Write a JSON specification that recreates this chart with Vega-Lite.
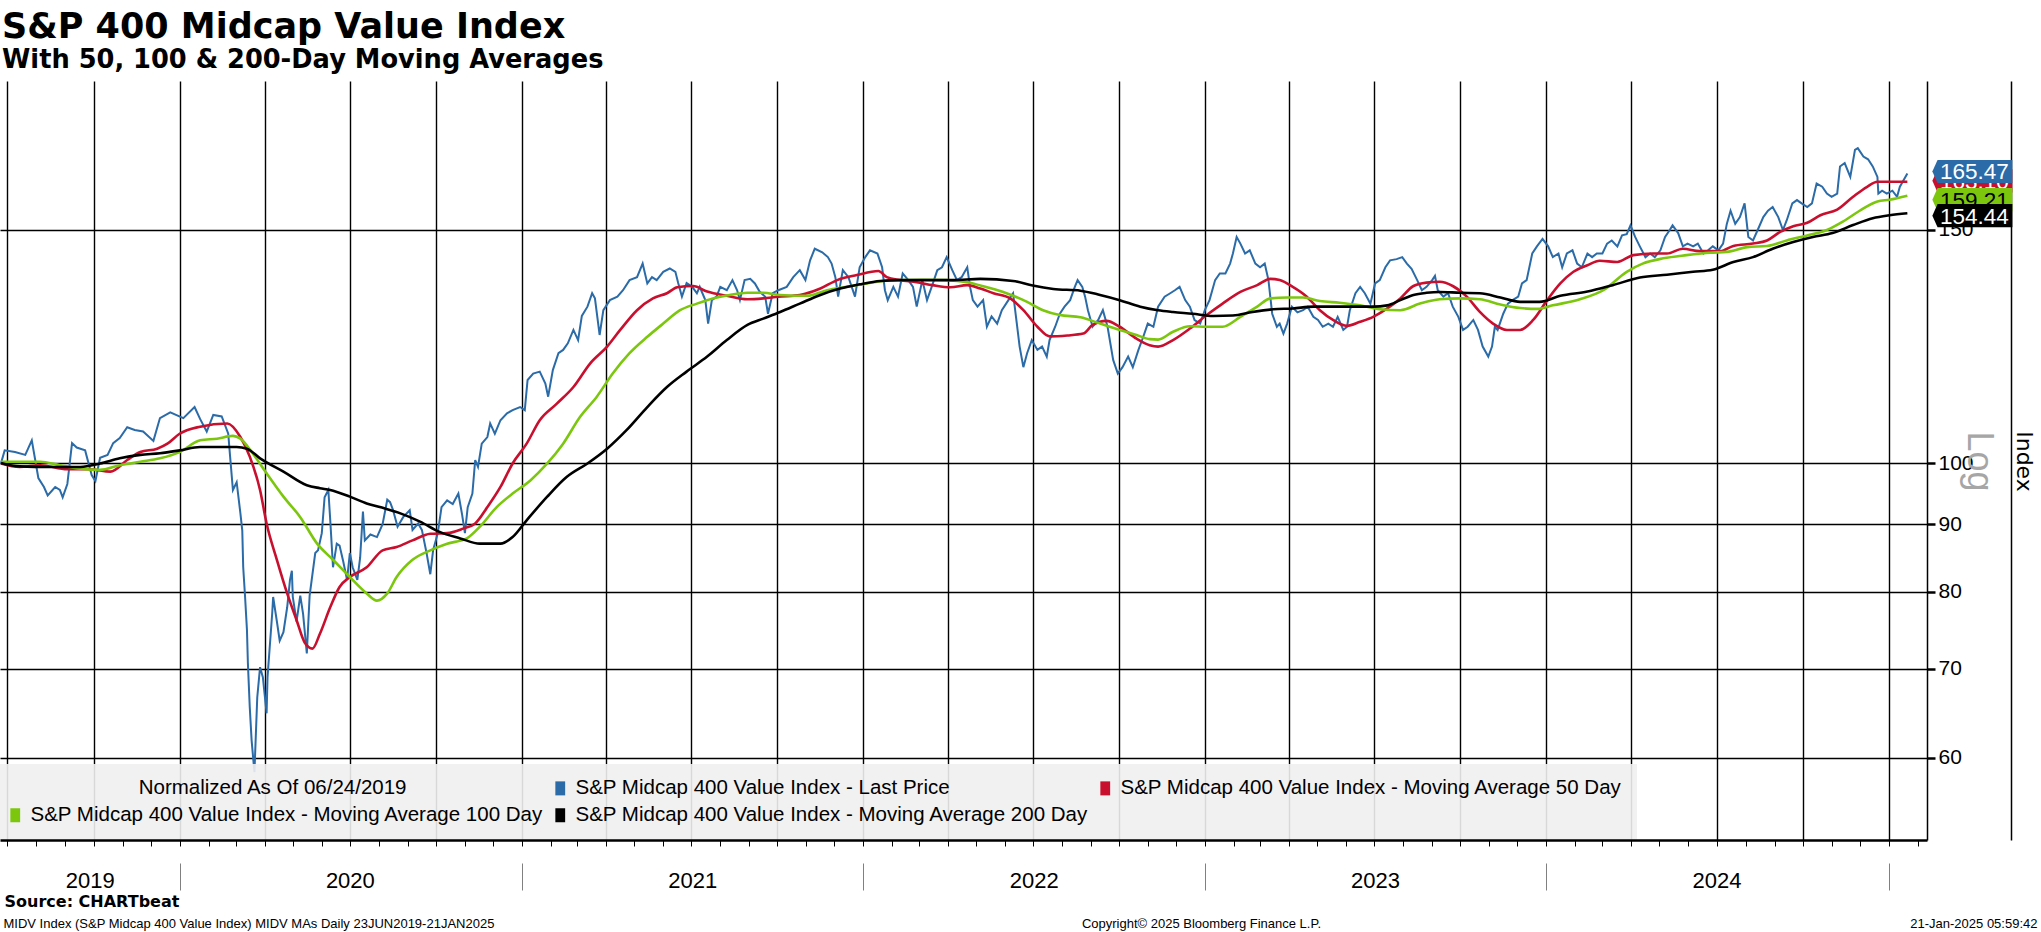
{
"$schema": "https://vega.github.io/schema/vega-lite/v6.json",
"width": 1927, "height": 759,
"autosize": {"type": "none"},
"padding": {"left": 0, "top": 81, "right": 114, "bottom": 92},
"background": "white",
"title": {"text": "S&P 400 Midcap Value Index", "subtitle": "With 50, 100 & 200-Day Moving Averages", "anchor": "start", "frame": "group", "offset": 8, "dx": 2, "font": "DejaVu Sans", "fontSize": 35, "fontWeight": "bold", "color": "#000000", "subtitleFont": "DejaVu Sans", "subtitleFontSize": 25.7, "subtitleFontWeight": "bold", "subtitleColor": "#000000", "subtitlePadding": 3},
"data": {"format": {"parse": {"date": "utc:'%Y-%j'"}}, "values": [
{"date":"2019-175","series":"MA 50","value":100.0},{"date":"2019-195","series":"MA 50","value":99.4},{"date":"2019-217","series":"MA 50","value":99.7},{"date":"2019-246","series":"MA 50","value":99.0},{"date":"2019-270","series":"MA 50","value":99.0},{"date":"2019-292","series":"MA 50","value":98.6},{"date":"2019-310","series":"MA 50","value":100.6},{"date":"2019-324","series":"MA 50","value":102.0},{"date":"2019-342","series":"MA 50","value":102.6},{"date":"2019-353","series":"MA 50","value":103.5},{"date":"2020-001","series":"MA 50","value":105.3},{"date":"2020-023","series":"MA 50","value":106.6},{"date":"2020-052","series":"MA 50","value":107.2},{"date":"2020-066","series":"MA 50","value":104.7},{"date":"2020-076","series":"MA 50","value":101.2},{"date":"2020-087","series":"MA 50","value":95.5},{"date":"2020-094","series":"MA 50","value":90.1},{"date":"2020-105","series":"MA 50","value":84.6},{"date":"2020-116","series":"MA 50","value":79.8},{"date":"2020-126","series":"MA 50","value":76.2},{"date":"2020-135","series":"MA 50","value":73.2},{"date":"2020-143","series":"MA 50","value":72.5},{"date":"2020-151","series":"MA 50","value":74.4},{"date":"2020-162","series":"MA 50","value":77.9},{"date":"2020-172","series":"MA 50","value":80.7},{"date":"2020-183","series":"MA 50","value":82.1},{"date":"2020-201","series":"MA 50","value":83.5},{"date":"2020-218","series":"MA 50","value":86.0},{"date":"2020-233","series":"MA 50","value":86.5},{"date":"2020-250","series":"MA 50","value":87.5},{"date":"2020-269","series":"MA 50","value":88.5},{"date":"2020-287","series":"MA 50","value":88.6},{"date":"2020-304","series":"MA 50","value":89.3},{"date":"2020-317","series":"MA 50","value":90.1},{"date":"2020-330","series":"MA 50","value":92.7},{"date":"2020-344","series":"MA 50","value":96.0},{"date":"2020-357","series":"MA 50","value":100.0},{"date":"2021-006","series":"MA 50","value":103.5},{"date":"2021-020","series":"MA 50","value":107.8},{"date":"2021-038","series":"MA 50","value":110.9},{"date":"2021-056","series":"MA 50","value":114.2},{"date":"2021-074","series":"MA 50","value":119.0},{"date":"2021-092","series":"MA 50","value":122.5},{"date":"2021-106","series":"MA 50","value":126.1},{"date":"2021-124","series":"MA 50","value":130.5},{"date":"2021-141","series":"MA 50","value":133.2},{"date":"2021-156","series":"MA 50","value":134.4},{"date":"2021-167","series":"MA 50","value":135.8},{"date":"2021-184","series":"MA 50","value":136.1},{"date":"2021-199","series":"MA 50","value":134.8},{"date":"2021-220","series":"MA 50","value":133.8},{"date":"2021-242","series":"MA 50","value":133.0},{"date":"2021-259","series":"MA 50","value":133.2},{"date":"2021-275","series":"MA 50","value":133.6},{"date":"2021-298","series":"MA 50","value":134.0},{"date":"2021-320","series":"MA 50","value":135.5},{"date":"2021-338","series":"MA 50","value":137.5},{"date":"2021-359","series":"MA 50","value":138.7},{"date":"2022-017","series":"MA 50","value":139.7},{"date":"2022-026","series":"MA 50","value":138.2},{"date":"2022-040","series":"MA 50","value":137.5},{"date":"2022-058","series":"MA 50","value":137.0},{"date":"2022-075","series":"MA 50","value":136.3},{"date":"2022-094","series":"MA 50","value":135.8},{"date":"2022-112","series":"MA 50","value":136.3},{"date":"2022-126","series":"MA 50","value":135.5},{"date":"2022-140","series":"MA 50","value":134.4},{"date":"2022-158","series":"MA 50","value":133.2},{"date":"2022-172","series":"MA 50","value":130.5},{"date":"2022-187","series":"MA 50","value":126.8},{"date":"2022-200","series":"MA 50","value":124.7},{"date":"2022-219","series":"MA 50","value":124.9},{"date":"2022-236","series":"MA 50","value":125.3},{"date":"2022-246","series":"MA 50","value":127.2},{"date":"2022-261","series":"MA 50","value":128.1},{"date":"2022-275","series":"MA 50","value":126.8},{"date":"2022-293","series":"MA 50","value":124.2},{"date":"2022-307","series":"MA 50","value":122.8},{"date":"2022-316","series":"MA 50","value":122.5},{"date":"2022-332","series":"MA 50","value":123.9},{"date":"2022-350","series":"MA 50","value":126.4},{"date":"2023-003","series":"MA 50","value":129.4},{"date":"2023-020","series":"MA 50","value":132.0},{"date":"2023-039","series":"MA 50","value":134.7},{"date":"2023-057","series":"MA 50","value":136.3},{"date":"2023-071","series":"MA 50","value":137.8},{"date":"2023-081","series":"MA 50","value":137.5},{"date":"2023-095","series":"MA 50","value":135.9},{"date":"2023-110","series":"MA 50","value":133.6},{"date":"2023-124","series":"MA 50","value":130.5},{"date":"2023-138","series":"MA 50","value":128.3},{"date":"2023-153","series":"MA 50","value":127.0},{"date":"2023-167","series":"MA 50","value":127.9},{"date":"2023-181","series":"MA 50","value":129.0},{"date":"2023-196","series":"MA 50","value":130.9},{"date":"2023-210","series":"MA 50","value":133.2},{"date":"2023-224","series":"MA 50","value":136.1},{"date":"2023-238","series":"MA 50","value":136.9},{"date":"2023-252","series":"MA 50","value":137.1},{"date":"2023-266","series":"MA 50","value":136.1},{"date":"2023-281","series":"MA 50","value":133.6},{"date":"2023-295","series":"MA 50","value":130.1},{"date":"2023-309","series":"MA 50","value":127.5},{"date":"2023-324","series":"MA 50","value":126.1},{"date":"2023-338","series":"MA 50","value":126.1},{"date":"2023-352","series":"MA 50","value":128.3},{"date":"2024-002","series":"MA 50","value":132.8},{"date":"2024-016","series":"MA 50","value":136.7},{"date":"2024-030","series":"MA 50","value":139.5},{"date":"2024-045","series":"MA 50","value":141.1},{"date":"2024-058","series":"MA 50","value":142.2},{"date":"2024-077","series":"MA 50","value":141.9},{"date":"2024-094","series":"MA 50","value":143.6},{"date":"2024-115","series":"MA 50","value":144.0},{"date":"2024-130","series":"MA 50","value":144.0},{"date":"2024-147","series":"MA 50","value":145.2},{"date":"2024-165","series":"MA 50","value":144.6},{"date":"2024-187","series":"MA 50","value":144.6},{"date":"2024-201","series":"MA 50","value":145.9},{"date":"2024-222","series":"MA 50","value":146.5},{"date":"2024-237","series":"MA 50","value":147.3},{"date":"2024-251","series":"MA 50","value":149.5},{"date":"2024-265","series":"MA 50","value":151.0},{"date":"2024-280","series":"MA 50","value":151.9},{"date":"2024-294","series":"MA 50","value":153.9},{"date":"2024-312","series":"MA 50","value":155.4},{"date":"2024-329","series":"MA 50","value":158.9},{"date":"2024-344","series":"MA 50","value":161.7},{"date":"2024-355","series":"MA 50","value":163.1},{"date":"2025-021","series":"MA 50","value":163.1},
{"date":"2019-175","series":"MA 100","value":100.3},{"date":"2019-195","series":"MA 100","value":100.3},{"date":"2019-217","series":"MA 100","value":100.3},{"date":"2019-238","series":"MA 100","value":99.7},{"date":"2019-260","series":"MA 100","value":99.1},{"date":"2019-281","series":"MA 100","value":98.9},{"date":"2019-302","series":"MA 100","value":99.7},{"date":"2019-324","series":"MA 100","value":100.3},{"date":"2019-345","series":"MA 100","value":100.9},{"date":"2020-001","series":"MA 100","value":102.0},{"date":"2020-023","series":"MA 100","value":104.1},{"date":"2020-041","series":"MA 100","value":104.4},{"date":"2020-058","series":"MA 100","value":104.9},{"date":"2020-066","series":"MA 100","value":104.4},{"date":"2020-079","series":"MA 100","value":101.8},{"date":"2020-094","series":"MA 100","value":98.3},{"date":"2020-112","series":"MA 100","value":94.4},{"date":"2020-130","series":"MA 100","value":91.1},{"date":"2020-148","series":"MA 100","value":87.0},{"date":"2020-165","series":"MA 100","value":84.6},{"date":"2020-183","series":"MA 100","value":82.1},{"date":"2020-201","series":"MA 100","value":79.8},{"date":"2020-212","series":"MA 100","value":78.8},{"date":"2020-223","series":"MA 100","value":79.8},{"date":"2020-233","series":"MA 100","value":82.1},{"date":"2020-250","series":"MA 100","value":84.6},{"date":"2020-269","series":"MA 100","value":86.0},{"date":"2020-287","series":"MA 100","value":87.0},{"date":"2020-308","series":"MA 100","value":87.8},{"date":"2020-322","series":"MA 100","value":89.6},{"date":"2020-340","series":"MA 100","value":92.7},{"date":"2020-357","series":"MA 100","value":94.9},{"date":"2021-010","series":"MA 100","value":97.1},{"date":"2021-028","series":"MA 100","value":100.0},{"date":"2021-045","series":"MA 100","value":103.5},{"date":"2021-063","series":"MA 100","value":108.4},{"date":"2021-081","series":"MA 100","value":112.3},{"date":"2021-098","series":"MA 100","value":116.9},{"date":"2021-116","series":"MA 100","value":121.1},{"date":"2021-135","series":"MA 100","value":124.6},{"date":"2021-152","series":"MA 100","value":127.5},{"date":"2021-170","series":"MA 100","value":130.5},{"date":"2021-188","series":"MA 100","value":132.0},{"date":"2021-205","series":"MA 100","value":133.2},{"date":"2021-223","series":"MA 100","value":134.0},{"date":"2021-242","series":"MA 100","value":134.5},{"date":"2021-259","series":"MA 100","value":134.5},{"date":"2021-277","series":"MA 100","value":134.0},{"date":"2021-306","series":"MA 100","value":133.8},{"date":"2021-327","series":"MA 100","value":135.1},{"date":"2021-348","series":"MA 100","value":135.9},{"date":"2022-005","series":"MA 100","value":136.7},{"date":"2022-022","series":"MA 100","value":137.3},{"date":"2022-043","series":"MA 100","value":137.5},{"date":"2022-065","series":"MA 100","value":137.6},{"date":"2022-090","series":"MA 100","value":137.5},{"date":"2022-112","series":"MA 100","value":137.0},{"date":"2022-133","series":"MA 100","value":135.8},{"date":"2022-154","series":"MA 100","value":134.4},{"date":"2022-176","series":"MA 100","value":132.4},{"date":"2022-193","series":"MA 100","value":130.5},{"date":"2022-211","series":"MA 100","value":129.4},{"date":"2022-233","series":"MA 100","value":128.9},{"date":"2022-254","series":"MA 100","value":127.5},{"date":"2022-275","series":"MA 100","value":126.1},{"date":"2022-293","series":"MA 100","value":125.0},{"date":"2022-307","series":"MA 100","value":124.1},{"date":"2022-316","series":"MA 100","value":124.0},{"date":"2022-332","series":"MA 100","value":125.7},{"date":"2022-350","series":"MA 100","value":126.9},{"date":"2023-003","series":"MA 100","value":126.8},{"date":"2023-020","series":"MA 100","value":126.8},{"date":"2023-039","series":"MA 100","value":129.0},{"date":"2023-057","series":"MA 100","value":131.3},{"date":"2023-071","series":"MA 100","value":133.2},{"date":"2023-089","series":"MA 100","value":133.4},{"date":"2023-106","series":"MA 100","value":133.4},{"date":"2023-124","series":"MA 100","value":132.6},{"date":"2023-145","series":"MA 100","value":132.2},{"date":"2023-167","series":"MA 100","value":131.6},{"date":"2023-188","series":"MA 100","value":130.7},{"date":"2023-210","series":"MA 100","value":130.5},{"date":"2023-231","series":"MA 100","value":132.0},{"date":"2023-252","series":"MA 100","value":133.0},{"date":"2023-274","series":"MA 100","value":133.2},{"date":"2023-295","series":"MA 100","value":133.0},{"date":"2023-317","series":"MA 100","value":131.8},{"date":"2023-338","series":"MA 100","value":131.0},{"date":"2023-357","series":"MA 100","value":130.8},{"date":"2024-008","series":"MA 100","value":131.6},{"date":"2024-037","series":"MA 100","value":133.0},{"date":"2024-062","series":"MA 100","value":135.1},{"date":"2024-087","series":"MA 100","value":139.5},{"date":"2024-104","series":"MA 100","value":141.5},{"date":"2024-126","series":"MA 100","value":142.8},{"date":"2024-151","series":"MA 100","value":143.6},{"date":"2024-176","series":"MA 100","value":144.2},{"date":"2024-194","series":"MA 100","value":144.4},{"date":"2024-216","series":"MA 100","value":145.6},{"date":"2024-237","series":"MA 100","value":145.9},{"date":"2024-258","series":"MA 100","value":147.3},{"date":"2024-280","series":"MA 100","value":148.6},{"date":"2024-301","series":"MA 100","value":150.0},{"date":"2024-318","series":"MA 100","value":152.2},{"date":"2024-336","series":"MA 100","value":155.1},{"date":"2024-355","series":"MA 100","value":157.6},{"date":"2025-002","series":"MA 100","value":158.1},{"date":"2025-021","series":"MA 100","value":159.21},
{"date":"2019-175","series":"MA 200","value":100.1},{"date":"2019-195","series":"MA 200","value":99.5},{"date":"2019-227","series":"MA 200","value":99.4},{"date":"2019-260","series":"MA 200","value":99.4},{"date":"2019-281","series":"MA 200","value":100.0},{"date":"2019-302","series":"MA 200","value":100.9},{"date":"2019-324","series":"MA 200","value":101.5},{"date":"2019-345","series":"MA 200","value":101.8},{"date":"2020-001","series":"MA 200","value":102.3},{"date":"2020-023","series":"MA 200","value":102.9},{"date":"2020-044","series":"MA 200","value":102.9},{"date":"2020-062","series":"MA 200","value":102.9},{"date":"2020-073","series":"MA 200","value":102.6},{"date":"2020-087","series":"MA 200","value":100.9},{"date":"2020-112","series":"MA 200","value":98.6},{"date":"2020-137","series":"MA 200","value":96.3},{"date":"2020-151","series":"MA 200","value":95.8},{"date":"2020-162","series":"MA 200","value":95.5},{"date":"2020-183","series":"MA 200","value":94.4},{"date":"2020-201","series":"MA 200","value":93.3},{"date":"2020-215","series":"MA 200","value":92.7},{"date":"2020-237","series":"MA 200","value":91.7},{"date":"2020-258","series":"MA 200","value":90.4},{"date":"2020-279","series":"MA 200","value":88.8},{"date":"2020-301","series":"MA 200","value":87.8},{"date":"2020-322","series":"MA 200","value":87.0},{"date":"2020-344","series":"MA 200","value":87.0},{"date":"2020-357","series":"MA 200","value":88.0},{"date":"2021-006","series":"MA 200","value":90.6},{"date":"2021-028","series":"MA 200","value":94.4},{"date":"2021-049","series":"MA 200","value":97.7},{"date":"2021-071","series":"MA 200","value":100.0},{"date":"2021-092","series":"MA 200","value":102.6},{"date":"2021-113","series":"MA 200","value":106.0},{"date":"2021-135","series":"MA 200","value":110.3},{"date":"2021-156","series":"MA 200","value":114.2},{"date":"2021-177","series":"MA 200","value":117.3},{"date":"2021-199","series":"MA 200","value":120.4},{"date":"2021-220","series":"MA 200","value":123.9},{"date":"2021-242","series":"MA 200","value":127.2},{"date":"2021-259","series":"MA 200","value":128.6},{"date":"2021-277","series":"MA 200","value":130.1},{"date":"2021-298","series":"MA 200","value":132.0},{"date":"2021-320","series":"MA 200","value":134.0},{"date":"2021-341","series":"MA 200","value":135.5},{"date":"2021-362","series":"MA 200","value":136.5},{"date":"2022-019","series":"MA 200","value":137.3},{"date":"2022-040","series":"MA 200","value":137.5},{"date":"2022-069","series":"MA 200","value":137.5},{"date":"2022-097","series":"MA 200","value":137.5},{"date":"2022-126","series":"MA 200","value":137.8},{"date":"2022-161","series":"MA 200","value":137.3},{"date":"2022-182","series":"MA 200","value":136.2},{"date":"2022-204","series":"MA 200","value":135.4},{"date":"2022-233","series":"MA 200","value":135.0},{"date":"2022-254","series":"MA 200","value":134.0},{"date":"2022-275","series":"MA 200","value":132.8},{"date":"2022-297","series":"MA 200","value":131.3},{"date":"2022-316","series":"MA 200","value":130.5},{"date":"2022-332","series":"MA 200","value":130.1},{"date":"2022-353","series":"MA 200","value":129.7},{"date":"2023-010","series":"MA 200","value":129.2},{"date":"2023-031","series":"MA 200","value":129.3},{"date":"2023-052","series":"MA 200","value":130.1},{"date":"2023-074","series":"MA 200","value":130.7},{"date":"2023-095","series":"MA 200","value":130.9},{"date":"2023-117","series":"MA 200","value":131.3},{"date":"2023-181","series":"MA 200","value":131.3},{"date":"2023-196","series":"MA 200","value":131.6},{"date":"2023-210","series":"MA 200","value":132.8},{"date":"2023-224","series":"MA 200","value":134.0},{"date":"2023-238","series":"MA 200","value":134.5},{"date":"2023-252","series":"MA 200","value":134.7},{"date":"2023-274","series":"MA 200","value":134.5},{"date":"2023-295","series":"MA 200","value":134.4},{"date":"2023-317","series":"MA 200","value":133.4},{"date":"2023-338","series":"MA 200","value":132.4},{"date":"2023-359","series":"MA 200","value":132.4},{"date":"2024-016","series":"MA 200","value":133.8},{"date":"2024-045","series":"MA 200","value":134.8},{"date":"2024-072","series":"MA 200","value":136.3},{"date":"2024-101","series":"MA 200","value":138.1},{"date":"2024-130","series":"MA 200","value":138.8},{"date":"2024-158","series":"MA 200","value":139.5},{"date":"2024-179","series":"MA 200","value":140.0},{"date":"2024-201","series":"MA 200","value":141.9},{"date":"2024-222","series":"MA 200","value":143.1},{"date":"2024-243","series":"MA 200","value":145.2},{"date":"2024-265","series":"MA 200","value":146.9},{"date":"2024-286","series":"MA 200","value":148.2},{"date":"2024-307","series":"MA 200","value":149.2},{"date":"2024-329","series":"MA 200","value":151.3},{"date":"2024-350","series":"MA 200","value":153.1},{"date":"2025-002","series":"MA 200","value":153.9},{"date":"2025-021","series":"MA 200","value":154.44},
{"date":"2019-175","series":"Last Price","value":100.0},{"date":"2019-179","series":"Last Price","value":102.3},{"date":"2019-190","series":"Last Price","value":102.0},{"date":"2019-201","series":"Last Price","value":101.5},{"date":"2019-208","series":"Last Price","value":104.1},{"date":"2019-215","series":"Last Price","value":97.5},{"date":"2019-221","series":"Last Price","value":96.0},{"date":"2019-225","series":"Last Price","value":94.6},{"date":"2019-233","series":"Last Price","value":96.0},{"date":"2019-238","series":"Last Price","value":95.5},{"date":"2019-241","series":"Last Price","value":94.3},{"date":"2019-246","series":"Last Price","value":96.5},{"date":"2019-251","series":"Last Price","value":103.6},{"date":"2019-256","series":"Last Price","value":102.8},{"date":"2019-265","series":"Last Price","value":102.3},{"date":"2019-272","series":"Last Price","value":98.0},{"date":"2019-276","series":"Last Price","value":97.0},{"date":"2019-281","series":"Last Price","value":101.0},{"date":"2019-289","series":"Last Price","value":101.5},{"date":"2019-295","series":"Last Price","value":103.6},{"date":"2019-302","series":"Last Price","value":104.5},{"date":"2019-310","series":"Last Price","value":106.5},{"date":"2019-318","series":"Last Price","value":106.0},{"date":"2019-327","series":"Last Price","value":105.7},{"date":"2019-338","series":"Last Price","value":104.0},{"date":"2019-345","series":"Last Price","value":108.2},{"date":"2019-356","series":"Last Price","value":109.3},{"date":"2020-005","series":"Last Price","value":108.2},{"date":"2020-017","series":"Last Price","value":110.3},{"date":"2020-023","series":"Last Price","value":108.0},{"date":"2020-030","series":"Last Price","value":105.7},{"date":"2020-037","series":"Last Price","value":108.8},{"date":"2020-046","series":"Last Price","value":108.5},{"date":"2020-053","series":"Last Price","value":105.3},{"date":"2020-055","series":"Last Price","value":101.2},{"date":"2020-058","series":"Last Price","value":95.5},{"date":"2020-062","series":"Last Price","value":96.8},{"date":"2020-066","series":"Last Price","value":91.7},{"date":"2020-068","series":"Last Price","value":89.0},{"date":"2020-069","series":"Last Price","value":83.5},{"date":"2020-071","series":"Last Price","value":79.3},{"date":"2020-073","series":"Last Price","value":74.9},{"date":"2020-074","series":"Last Price","value":70.7},{"date":"2020-076","series":"Last Price","value":65.5},{"date":"2020-078","series":"Last Price","value":61.8},{"date":"2020-081","series":"Last Price","value":58.5},{"date":"2020-084","series":"Last Price","value":66.6},{"date":"2020-087","series":"Last Price","value":70.2},{"date":"2020-090","series":"Last Price","value":69.0},{"date":"2020-094","series":"Last Price","value":64.8},{"date":"2020-095","series":"Last Price","value":69.0},{"date":"2020-100","series":"Last Price","value":77.1},{"date":"2020-101","series":"Last Price","value":79.3},{"date":"2020-105","series":"Last Price","value":76.0},{"date":"2020-108","series":"Last Price","value":73.5},{"date":"2020-112","series":"Last Price","value":74.6},{"date":"2020-116","series":"Last Price","value":77.9},{"date":"2020-119","series":"Last Price","value":81.7},{"date":"2020-121","series":"Last Price","value":83.0},{"date":"2020-122","series":"Last Price","value":79.3},{"date":"2020-126","series":"Last Price","value":76.0},{"date":"2020-130","series":"Last Price","value":79.5},{"date":"2020-133","series":"Last Price","value":77.0},{"date":"2020-137","series":"Last Price","value":71.9},{"date":"2020-140","series":"Last Price","value":79.5},{"date":"2020-146","series":"Last Price","value":85.6},{"date":"2020-149","series":"Last Price","value":86.0},{"date":"2020-153","series":"Last Price","value":88.6},{"date":"2020-156","series":"Last Price","value":94.3},{"date":"2020-160","series":"Last Price","value":95.5},{"date":"2020-162","series":"Last Price","value":90.7},{"date":"2020-165","series":"Last Price","value":83.5},{"date":"2020-169","series":"Last Price","value":87.0},{"date":"2020-172","series":"Last Price","value":86.7},{"date":"2020-176","series":"Last Price","value":84.3},{"date":"2020-180","series":"Last Price","value":81.7},{"date":"2020-183","series":"Last Price","value":85.6},{"date":"2020-186","series":"Last Price","value":83.5},{"date":"2020-191","series":"Last Price","value":81.7},{"date":"2020-194","series":"Last Price","value":84.9},{"date":"2020-197","series":"Last Price","value":92.0},{"date":"2020-199","series":"Last Price","value":87.5},{"date":"2020-205","series":"Last Price","value":88.4},{"date":"2020-212","series":"Last Price","value":88.0},{"date":"2020-218","series":"Last Price","value":90.0},{"date":"2020-223","series":"Last Price","value":93.9},{"date":"2020-226","series":"Last Price","value":93.5},{"date":"2020-229","series":"Last Price","value":92.3},{"date":"2020-234","series":"Last Price","value":89.6},{"date":"2020-240","series":"Last Price","value":91.1},{"date":"2020-247","series":"Last Price","value":92.2},{"date":"2020-250","series":"Last Price","value":89.1},{"date":"2020-256","series":"Last Price","value":90.1},{"date":"2020-260","series":"Last Price","value":89.1},{"date":"2020-265","series":"Last Price","value":85.6},{"date":"2020-269","series":"Last Price","value":82.5},{"date":"2020-272","series":"Last Price","value":86.0},{"date":"2020-277","series":"Last Price","value":88.6},{"date":"2020-281","series":"Last Price","value":92.7},{"date":"2020-287","series":"Last Price","value":93.8},{"date":"2020-293","series":"Last Price","value":93.2},{"date":"2020-299","series":"Last Price","value":94.9},{"date":"2020-303","series":"Last Price","value":91.5},{"date":"2020-306","series":"Last Price","value":88.6},{"date":"2020-309","series":"Last Price","value":92.7},{"date":"2020-314","series":"Last Price","value":94.9},{"date":"2020-317","series":"Last Price","value":100.6},{"date":"2020-320","series":"Last Price","value":99.4},{"date":"2020-324","series":"Last Price","value":103.5},{"date":"2020-330","series":"Last Price","value":104.7},{"date":"2020-333","series":"Last Price","value":107.2},{"date":"2020-338","series":"Last Price","value":105.3},{"date":"2020-344","series":"Last Price","value":107.8},{"date":"2020-351","series":"Last Price","value":109.1},{"date":"2020-357","series":"Last Price","value":109.7},{"date":"2020-365","series":"Last Price","value":110.3},{"date":"2021-004","series":"Last Price","value":109.7},{"date":"2021-007","series":"Last Price","value":115.6},{"date":"2021-013","series":"Last Price","value":116.9},{"date":"2021-020","series":"Last Price","value":117.3},{"date":"2021-026","series":"Last Price","value":114.9},{"date":"2021-029","series":"Last Price","value":112.3},{"date":"2021-034","series":"Last Price","value":117.6},{"date":"2021-040","series":"Last Price","value":121.1},{"date":"2021-045","series":"Last Price","value":121.8},{"date":"2021-050","series":"Last Price","value":123.2},{"date":"2021-056","series":"Last Price","value":126.1},{"date":"2021-061","series":"Last Price","value":123.9},{"date":"2021-065","series":"Last Price","value":129.2},{"date":"2021-071","series":"Last Price","value":131.3},{"date":"2021-076","series":"Last Price","value":134.4},{"date":"2021-079","series":"Last Price","value":133.2},{"date":"2021-084","series":"Last Price","value":125.0},{"date":"2021-088","series":"Last Price","value":130.5},{"date":"2021-095","series":"Last Price","value":132.8},{"date":"2021-103","series":"Last Price","value":133.6},{"date":"2021-109","series":"Last Price","value":135.1},{"date":"2021-116","series":"Last Price","value":137.5},{"date":"2021-124","series":"Last Price","value":138.2},{"date":"2021-130","series":"Last Price","value":141.5},{"date":"2021-135","series":"Last Price","value":136.7},{"date":"2021-140","series":"Last Price","value":138.2},{"date":"2021-145","series":"Last Price","value":137.5},{"date":"2021-152","series":"Last Price","value":139.5},{"date":"2021-159","series":"Last Price","value":140.3},{"date":"2021-165","series":"Last Price","value":139.5},{"date":"2021-168","series":"Last Price","value":136.8},{"date":"2021-172","series":"Last Price","value":133.6},{"date":"2021-177","series":"Last Price","value":136.8},{"date":"2021-183","series":"Last Price","value":135.9},{"date":"2021-188","series":"Last Price","value":134.4},{"date":"2021-191","series":"Last Price","value":135.9},{"date":"2021-197","series":"Last Price","value":132.8},{"date":"2021-200","series":"Last Price","value":127.5},{"date":"2021-204","series":"Last Price","value":132.8},{"date":"2021-209","series":"Last Price","value":133.6},{"date":"2021-213","series":"Last Price","value":135.9},{"date":"2021-220","series":"Last Price","value":135.1},{"date":"2021-226","series":"Last Price","value":137.5},{"date":"2021-231","series":"Last Price","value":135.1},{"date":"2021-234","series":"Last Price","value":132.8},{"date":"2021-239","series":"Last Price","value":137.5},{"date":"2021-245","series":"Last Price","value":137.8},{"date":"2021-250","series":"Last Price","value":136.7},{"date":"2021-255","series":"Last Price","value":134.8},{"date":"2021-261","series":"Last Price","value":133.6},{"date":"2021-264","series":"Last Price","value":129.7},{"date":"2021-269","series":"Last Price","value":134.4},{"date":"2021-275","series":"Last Price","value":135.1},{"date":"2021-284","series":"Last Price","value":135.9},{"date":"2021-291","series":"Last Price","value":138.2},{"date":"2021-298","series":"Last Price","value":139.9},{"date":"2021-304","series":"Last Price","value":137.5},{"date":"2021-309","series":"Last Price","value":142.3},{"date":"2021-314","series":"Last Price","value":145.2},{"date":"2021-322","series":"Last Price","value":144.3},{"date":"2021-328","series":"Last Price","value":143.1},{"date":"2021-332","series":"Last Price","value":141.5},{"date":"2021-336","series":"Last Price","value":138.2},{"date":"2021-339","series":"Last Price","value":133.6},{"date":"2021-344","series":"Last Price","value":139.9},{"date":"2021-350","series":"Last Price","value":138.2},{"date":"2021-357","series":"Last Price","value":133.6},{"date":"2021-362","series":"Last Price","value":140.6},{"date":"2022-003","series":"Last Price","value":143.1},{"date":"2022-008","series":"Last Price","value":144.8},{"date":"2022-016","series":"Last Price","value":144.0},{"date":"2022-021","series":"Last Price","value":140.6},{"date":"2022-024","series":"Last Price","value":135.1},{"date":"2022-027","series":"Last Price","value":132.8},{"date":"2022-033","series":"Last Price","value":135.9},{"date":"2022-038","series":"Last Price","value":133.6},{"date":"2022-043","series":"Last Price","value":139.1},{"date":"2022-049","series":"Last Price","value":137.5},{"date":"2022-054","series":"Last Price","value":135.9},{"date":"2022-058","series":"Last Price","value":131.3},{"date":"2022-064","series":"Last Price","value":137.5},{"date":"2022-069","series":"Last Price","value":132.8},{"date":"2022-074","series":"Last Price","value":135.9},{"date":"2022-080","series":"Last Price","value":139.9},{"date":"2022-085","series":"Last Price","value":140.6},{"date":"2022-090","series":"Last Price","value":143.1},{"date":"2022-096","series":"Last Price","value":139.9},{"date":"2022-101","series":"Last Price","value":137.5},{"date":"2022-106","series":"Last Price","value":138.2},{"date":"2022-112","series":"Last Price","value":140.6},{"date":"2022-115","series":"Last Price","value":135.9},{"date":"2022-118","series":"Last Price","value":132.8},{"date":"2022-123","series":"Last Price","value":131.3},{"date":"2022-129","series":"Last Price","value":132.8},{"date":"2022-133","series":"Last Price","value":126.8},{"date":"2022-138","series":"Last Price","value":129.1},{"date":"2022-144","series":"Last Price","value":127.5},{"date":"2022-149","series":"Last Price","value":130.5},{"date":"2022-156","series":"Last Price","value":132.8},{"date":"2022-161","series":"Last Price","value":134.4},{"date":"2022-165","series":"Last Price","value":127.5},{"date":"2022-168","series":"Last Price","value":122.5},{"date":"2022-172","series":"Last Price","value":118.2},{"date":"2022-176","series":"Last Price","value":121.1},{"date":"2022-181","series":"Last Price","value":123.9},{"date":"2022-187","series":"Last Price","value":121.8},{"date":"2022-192","series":"Last Price","value":122.5},{"date":"2022-197","series":"Last Price","value":120.4},{"date":"2022-200","series":"Last Price","value":123.9},{"date":"2022-206","series":"Last Price","value":126.8},{"date":"2022-211","series":"Last Price","value":129.7},{"date":"2022-216","series":"Last Price","value":131.3},{"date":"2022-222","series":"Last Price","value":132.8},{"date":"2022-227","series":"Last Price","value":135.9},{"date":"2022-230","series":"Last Price","value":137.5},{"date":"2022-235","series":"Last Price","value":135.9},{"date":"2022-238","series":"Last Price","value":133.6},{"date":"2022-241","series":"Last Price","value":130.5},{"date":"2022-246","series":"Last Price","value":126.8},{"date":"2022-252","series":"Last Price","value":128.3},{"date":"2022-257","series":"Last Price","value":130.5},{"date":"2022-262","series":"Last Price","value":126.8},{"date":"2022-268","series":"Last Price","value":119.7},{"date":"2022-273","series":"Last Price","value":116.9},{"date":"2022-278","series":"Last Price","value":118.2},{"date":"2022-284","series":"Last Price","value":120.4},{"date":"2022-289","series":"Last Price","value":118.2},{"date":"2022-295","series":"Last Price","value":121.8},{"date":"2022-300","series":"Last Price","value":124.5},{"date":"2022-305","series":"Last Price","value":127.5},{"date":"2022-311","series":"Last Price","value":126.8},{"date":"2022-316","series":"Last Price","value":131.3},{"date":"2022-323","series":"Last Price","value":133.6},{"date":"2022-329","series":"Last Price","value":134.4},{"date":"2022-334","series":"Last Price","value":135.1},{"date":"2022-339","series":"Last Price","value":135.9},{"date":"2022-345","series":"Last Price","value":132.8},{"date":"2022-350","series":"Last Price","value":131.3},{"date":"2022-355","series":"Last Price","value":128.3},{"date":"2022-361","series":"Last Price","value":127.5},{"date":"2023-001","series":"Last Price","value":130.5},{"date":"2023-006","series":"Last Price","value":132.8},{"date":"2023-012","series":"Last Price","value":137.5},{"date":"2023-017","series":"Last Price","value":139.1},{"date":"2023-023","series":"Last Price","value":139.1},{"date":"2023-028","series":"Last Price","value":141.5},{"date":"2023-031","series":"Last Price","value":144.0},{"date":"2023-035","series":"Last Price","value":148.2},{"date":"2023-039","series":"Last Price","value":146.5},{"date":"2023-044","series":"Last Price","value":144.0},{"date":"2023-049","series":"Last Price","value":144.8},{"date":"2023-055","series":"Last Price","value":141.5},{"date":"2023-060","series":"Last Price","value":140.6},{"date":"2023-065","series":"Last Price","value":141.5},{"date":"2023-069","series":"Last Price","value":137.5},{"date":"2023-073","series":"Last Price","value":129.7},{"date":"2023-078","series":"Last Price","value":126.8},{"date":"2023-081","series":"Last Price","value":127.5},{"date":"2023-085","series":"Last Price","value":125.3},{"date":"2023-089","series":"Last Price","value":127.5},{"date":"2023-094","series":"Last Price","value":131.3},{"date":"2023-100","series":"Last Price","value":130.0},{"date":"2023-106","series":"Last Price","value":130.5},{"date":"2023-111","series":"Last Price","value":131.3},{"date":"2023-117","series":"Last Price","value":129.0},{"date":"2023-122","series":"Last Price","value":128.3},{"date":"2023-127","series":"Last Price","value":126.8},{"date":"2023-133","series":"Last Price","value":127.5},{"date":"2023-138","series":"Last Price","value":126.8},{"date":"2023-143","series":"Last Price","value":129.0},{"date":"2023-149","series":"Last Price","value":126.1},{"date":"2023-153","series":"Last Price","value":126.8},{"date":"2023-156","series":"Last Price","value":130.5},{"date":"2023-162","series":"Last Price","value":134.4},{"date":"2023-167","series":"Last Price","value":135.9},{"date":"2023-172","series":"Last Price","value":134.4},{"date":"2023-178","series":"Last Price","value":132.0},{"date":"2023-183","series":"Last Price","value":136.7},{"date":"2023-188","series":"Last Price","value":137.5},{"date":"2023-194","series":"Last Price","value":140.6},{"date":"2023-199","series":"Last Price","value":142.3},{"date":"2023-206","series":"Last Price","value":142.6},{"date":"2023-212","series":"Last Price","value":143.1},{"date":"2023-217","series":"Last Price","value":141.5},{"date":"2023-222","series":"Last Price","value":140.2},{"date":"2023-228","series":"Last Price","value":137.5},{"date":"2023-233","series":"Last Price","value":135.1},{"date":"2023-238","series":"Last Price","value":135.9},{"date":"2023-244","series":"Last Price","value":137.5},{"date":"2023-247","series":"Last Price","value":138.5},{"date":"2023-250","series":"Last Price","value":135.1},{"date":"2023-256","series":"Last Price","value":133.6},{"date":"2023-261","series":"Last Price","value":134.4},{"date":"2023-266","series":"Last Price","value":131.3},{"date":"2023-272","series":"Last Price","value":129.0},{"date":"2023-277","series":"Last Price","value":126.1},{"date":"2023-282","series":"Last Price","value":126.8},{"date":"2023-288","series":"Last Price","value":128.3},{"date":"2023-293","series":"Last Price","value":126.1},{"date":"2023-298","series":"Last Price","value":122.5},{"date":"2023-304","series":"Last Price","value":120.4},{"date":"2023-308","series":"Last Price","value":122.5},{"date":"2023-311","series":"Last Price","value":126.8},{"date":"2023-314","series":"Last Price","value":126.1},{"date":"2023-320","series":"Last Price","value":129.7},{"date":"2023-325","series":"Last Price","value":132.0},{"date":"2023-330","series":"Last Price","value":132.8},{"date":"2023-336","series":"Last Price","value":133.6},{"date":"2023-340","series":"Last Price","value":136.7},{"date":"2023-345","series":"Last Price","value":137.5},{"date":"2023-351","series":"Last Price","value":144.0},{"date":"2023-356","series":"Last Price","value":145.8},{"date":"2023-362","series":"Last Price","value":147.7},{"date":"2024-003","series":"Last Price","value":145.8},{"date":"2024-008","series":"Last Price","value":143.1},{"date":"2024-014","series":"Last Price","value":144.0},{"date":"2024-018","series":"Last Price","value":140.6},{"date":"2024-023","series":"Last Price","value":144.0},{"date":"2024-029","series":"Last Price","value":144.8},{"date":"2024-034","series":"Last Price","value":141.5},{"date":"2024-039","series":"Last Price","value":140.6},{"date":"2024-045","series":"Last Price","value":144.0},{"date":"2024-050","series":"Last Price","value":143.1},{"date":"2024-055","series":"Last Price","value":144.0},{"date":"2024-061","series":"Last Price","value":144.0},{"date":"2024-066","series":"Last Price","value":146.5},{"date":"2024-071","series":"Last Price","value":147.3},{"date":"2024-077","series":"Last Price","value":145.8},{"date":"2024-082","series":"Last Price","value":148.6},{"date":"2024-087","series":"Last Price","value":148.9},{"date":"2024-091","series":"Last Price","value":151.2},{"date":"2024-096","series":"Last Price","value":148.2},{"date":"2024-101","series":"Last Price","value":145.8},{"date":"2024-107","series":"Last Price","value":143.1},{"date":"2024-112","series":"Last Price","value":144.0},{"date":"2024-117","series":"Last Price","value":143.1},{"date":"2024-123","series":"Last Price","value":144.8},{"date":"2024-128","series":"Last Price","value":148.2},{"date":"2024-133","series":"Last Price","value":150.0},{"date":"2024-136","series":"Last Price","value":151.2},{"date":"2024-142","series":"Last Price","value":149.2},{"date":"2024-147","series":"Last Price","value":145.8},{"date":"2024-152","series":"Last Price","value":146.5},{"date":"2024-158","series":"Last Price","value":145.8},{"date":"2024-163","series":"Last Price","value":146.5},{"date":"2024-169","series":"Last Price","value":144.0},{"date":"2024-174","series":"Last Price","value":144.8},{"date":"2024-179","series":"Last Price","value":145.8},{"date":"2024-185","series":"Last Price","value":144.8},{"date":"2024-190","series":"Last Price","value":146.5},{"date":"2024-194","series":"Last Price","value":151.6},{"date":"2024-198","series":"Last Price","value":155.1},{"date":"2024-203","series":"Last Price","value":151.6},{"date":"2024-208","series":"Last Price","value":153.4},{"date":"2024-213","series":"Last Price","value":157.1},{"date":"2024-217","series":"Last Price","value":148.2},{"date":"2024-222","series":"Last Price","value":147.3},{"date":"2024-227","series":"Last Price","value":150.0},{"date":"2024-233","series":"Last Price","value":153.4},{"date":"2024-238","series":"Last Price","value":155.1},{"date":"2024-243","series":"Last Price","value":156.1},{"date":"2024-249","series":"Last Price","value":153.4},{"date":"2024-254","series":"Last Price","value":150.0},{"date":"2024-258","series":"Last Price","value":152.5},{"date":"2024-264","series":"Last Price","value":157.1},{"date":"2024-269","series":"Last Price","value":158.0},{"date":"2024-274","series":"Last Price","value":157.1},{"date":"2024-280","series":"Last Price","value":156.1},{"date":"2024-285","series":"Last Price","value":157.1},{"date":"2024-290","series":"Last Price","value":162.6},{"date":"2024-296","series":"Last Price","value":161.7},{"date":"2024-301","series":"Last Price","value":159.8},{"date":"2024-306","series":"Last Price","value":158.9},{"date":"2024-312","series":"Last Price","value":159.8},{"date":"2024-315","series":"Last Price","value":167.5},{"date":"2024-320","series":"Last Price","value":168.5},{"date":"2024-326","series":"Last Price","value":164.5},{"date":"2024-331","series":"Last Price","value":172.4},{"date":"2024-334","series":"Last Price","value":172.9},{"date":"2024-340","series":"Last Price","value":170.4},{"date":"2024-345","series":"Last Price","value":169.6},{"date":"2024-350","series":"Last Price","value":167.5},{"date":"2024-355","series":"Last Price","value":164.5},{"date":"2024-356","series":"Last Price","value":159.8},{"date":"2024-360","series":"Last Price","value":160.6},{"date":"2024-365","series":"Last Price","value":159.8},{"date":"2025-005","series":"Last Price","value":160.6},{"date":"2025-010","series":"Last Price","value":158.9},{"date":"2025-013","series":"Last Price","value":161.7},{"date":"2025-021","series":"Last Price","value":165.47}
]},
"resolve": {"scale": {"x": "shared", "y": "shared", "color": "shared"}, "axis": {"x": "independent", "y": "independent"}},
"layer": [
{"transform": [{"filter": "datum.series == 'Last Price'"}],
 "mark": {"type": "line", "strokeWidth": 2, "interpolate": "linear"},
 "encoding": {
  "x": {"field": "date", "type": "temporal", "scale": {"type": "utc", "domain": [{"year": 2019, "month": 6, "date": 23, "utc": true}, {"year": 2025, "month": 2, "date": 11, "utc": true}]},
   "axis": {"orient": "bottom", "values": [{"year":2019,"month":7,"date":1,"utc":true},{"year":2019,"month":10,"date":1,"utc":true},{"year":2020,"month":1,"date":1,"utc":true},{"year":2020,"month":4,"date":1,"utc":true},{"year":2020,"month":7,"date":1,"utc":true},{"year":2020,"month":10,"date":1,"utc":true},{"year":2021,"month":1,"date":1,"utc":true},{"year":2021,"month":4,"date":1,"utc":true},{"year":2021,"month":7,"date":1,"utc":true},{"year":2021,"month":10,"date":1,"utc":true},{"year":2022,"month":1,"date":1,"utc":true},{"year":2022,"month":4,"date":1,"utc":true},{"year":2022,"month":7,"date":1,"utc":true},{"year":2022,"month":10,"date":1,"utc":true},{"year":2023,"month":1,"date":1,"utc":true},{"year":2023,"month":4,"date":1,"utc":true},{"year":2023,"month":7,"date":1,"utc":true},{"year":2023,"month":10,"date":1,"utc":true},{"year":2024,"month":1,"date":1,"utc":true},{"year":2024,"month":4,"date":1,"utc":true},{"year":2024,"month":7,"date":1,"utc":true},{"year":2024,"month":10,"date":1,"utc":true},{"year":2025,"month":1,"date":1,"utc":true}],
    "grid": true, "gridColor": "#000000", "gridWidth": 1.4, "gridOpacity": 1, "ticks": false, "labels": false, "domain": false,
    "title": "Source: CHARTbeat", "titleX": 4, "titleY": 66, "titleAlign": "left", "titleBaseline": "alphabetic", "titleFont": "DejaVu Sans", "titleFontSize": 16, "titleFontWeight": "bold", "titleColor": "#000000"}},
  "y": {"field": "value", "type": "quantitative", "scale": {"type": "log", "domain": [52, 194.3], "nice": false},
   "axis": {"orient": "right", "values": [60, 70, 80, 90, 100, 150], "format": ".0f", "grid": true, "gridColor": "#000000", "gridWidth": 1.4, "gridOpacity": 1, "domain": true, "domainColor": "#000000", "domainWidth": 1.5, "ticks": true, "tickSize": 8, "tickWidth": 2.5, "tickColor": "#000000", "labelFont": "Liberation Sans", "labelFontSize": 21, "labelColor": "#000000", "labelPadding": 3, "labelBaseline": "middle", "labelOverlap": false, "labelFlush": false,
    "title": "Log", "titleColor": "#a6a6a6", "titleFont": "Liberation Sans", "titleFontSize": 36, "titleFontWeight": "normal", "titleAngle": 90, "titleX": 51, "titleY": 380, "titleAlign": "center", "titleBaseline": "middle"}},
  "color": {"field": "series", "type": "nominal",
   "scale": {"domain": ["Normalized As Of 06/24/2019", "Last Price", "MA 50", "MA 100", "MA 200"], "range": ["rgba(0,0,0,0)", "#2b6ba8", "#c8102e", "#7cc70e", "#000000"]},
   "legend": {"orient": "none", "legendX": -9, "legendY": 683, "direction": "horizontal", "columns": 3, "gridAlign": "each", "columnPadding": 6, "rowPadding": 6, "padding": 14, "fillColor": "rgba(240,240,240,0.9)", "strokeColor": null, "title": null,
    "labelFont": "Liberation Sans", "labelFontSize": 20.5, "labelColor": "#000000", "labelLimit": 0, "labelOffset": 5, "symbolType": "M-0.7,-1H0.7V1H-0.7Z", "symbolSize": 196, "symbolStrokeWidth": 0,
    "labelExpr": "datum.label == 'Last Price' ? 'S&P Midcap 400 Value Index - Last Price' : datum.label == 'MA 50' ? 'S&P Midcap 400 Value Index - Moving Average 50 Day' : datum.label == 'MA 100' ? 'S&P Midcap 400 Value Index - Moving Average 100 Day' : datum.label == 'MA 200' ? 'S&P Midcap 400 Value Index - Moving Average 200 Day' : '\u200b\u00a0\u00a0\u00a0\u00a0\u00a0\u00a0\u00a0\u00a0\u00a0\u00a0\u00a0\u00a0\u00a0\u00a0\u00a0\u00a0\u00a0\u00a0\u00a0' + datum.label",
    "encode": {"symbols": {"update": {"fill": {"scale": "color", "field": "value"}, "stroke": {"value": "transparent"}, "strokeWidth": {"value": 0}}}}}}
 }},
{"transform": [{"filter": "datum.series != 'Last Price'"}],
 "mark": {"type": "line", "strokeWidth": 2.6, "interpolate": "monotone"},
 "encoding": {
  "x": {"field": "date", "type": "temporal", "scale": {"type": "utc", "domain": [{"year": 2019, "month": 6, "date": 23, "utc": true}, {"year": 2025, "month": 2, "date": 11, "utc": true}]},
   "axis": {"orient": "bottom", "tickCount": {"interval": "month", "step": 1}, "grid": false, "labels": false, "domain": true, "domainColor": "#000000", "domainWidth": 2.5, "ticks": true, "tickSize": 6, "tickColor": "#000000", "tickWidth": 1, "zindex": 1,
    "title": "MIDV Index (S&P Midcap 400 Value Index) MIDV MAs  Daily 23JUN2019-21JAN2025", "titleX": 3, "titleY": 87, "titleAlign": "left", "titleBaseline": "alphabetic", "titleFont": "Liberation Sans", "titleFontSize": 13, "titleFontWeight": "normal", "titleColor": "#000000"}},
  "y": {"field": "value", "type": "quantitative", "scale": {"type": "log", "domain": [52, 194.3], "nice": false},
   "axis": {"orient": "right", "offset": 84, "domain": true, "domainColor": "#000000", "domainWidth": 1.5, "ticks": false, "labels": false, "grid": false,
    "title": "Index", "titleFont": "DejaVu Sans", "titleFontSize": 22, "titleFontWeight": "normal", "titleColor": "#000000", "titleAngle": 90, "titleX": 12, "titleY": 380, "titleAlign": "center", "titleBaseline": "middle"}},
  "color": {"field": "series", "type": "nominal"}
 }},
{"transform": [{"filter": "datum.series == 'MA 50' && utcyear(datum.date) == 2025 && utcmonth(datum.date) == 0 && utcdate(datum.date) == 21"}],
 "mark": {"type": "point", "shape": "M-1,0L-0.87,-0.29L1,-0.29L1,0.29L-0.87,0.29Z", "size": 6400, "filled": true, "opacity": 1, "color": "#c8102e", "strokeWidth": 0, "xOffset": 65, "yOffset": -1},
 "encoding": {
  "x": {"field": "date", "type": "temporal", "axis": {"orient": "bottom", "offset": 23, "values": [{"year":2020,"month":1,"date":1,"utc":true},{"year":2021,"month":1,"date":1,"utc":true},{"year":2022,"month":1,"date":1,"utc":true},{"year":2023,"month":1,"date":1,"utc":true},{"year":2024,"month":1,"date":1,"utc":true},{"year":2025,"month":1,"date":1,"utc":true}], "ticks": true, "tickSize": 27, "tickColor": "#808080", "tickWidth": 1, "domain": false, "labels": false, "grid": false,
    "title": "Copyright\u00a9 2025 Bloomberg Finance L.P.", "titleX": 1201, "titleY": 64, "titleAlign": "center", "titleBaseline": "alphabetic", "titleFont": "Liberation Sans", "titleFontSize": 13, "titleFontWeight": "normal", "titleColor": "#000000"}},
  "y": {"field": "value", "type": "quantitative", "axis": null}
 }},
{"transform": [{"filter": "datum.series == 'MA 50' && utcyear(datum.date) == 2025 && utcmonth(datum.date) == 0 && utcdate(datum.date) == 21"}],
 "mark": {"type": "text", "font": "Liberation Sans", "fontSize": 22.5, "color": "#ffffff", "align": "center", "baseline": "middle", "dx": 67, "dy": 0},
 "encoding": {
  "x": {"field": "date", "type": "temporal", "axis": {"orient": "bottom", "values": [{"year":2019,"month":9,"date":27,"utc":true},{"year":2020,"month":7,"date":1,"utc":true},{"year":2021,"month":7,"date":2,"utc":true},{"year":2022,"month":7,"date":2,"utc":true},{"year":2023,"month":7,"date":2,"utc":true},{"year":2024,"month":7,"date":1,"utc":true}], "labelExpr": "utcFormat(datum.value, '%Y')", "ticks": false, "tickSize": 0, "labelPadding": 40, "labelBaseline": "middle", "labelFont": "Liberation Sans", "labelFontSize": 22, "labelColor": "#000000", "labelOverlap": false, "labelFlush": false, "labelBound": false, "domain": false, "grid": false,
    "title": "21-Jan-2025 05:59:42", "titleX": 2037, "titleY": 87, "titleAlign": "right", "titleBaseline": "alphabetic", "titleFont": "Liberation Sans", "titleFontSize": 13, "titleFontWeight": "normal", "titleColor": "#000000"}},
  "y": {"field": "value", "type": "quantitative", "axis": null},
  "text": {"field": "value", "type": "quantitative", "format": ".2f"}
 }},
{"transform": [{"filter": "datum.series == 'MA 100' && utcyear(datum.date) == 2025 && utcmonth(datum.date) == 0 && utcdate(datum.date) == 21"}],
 "mark": {"type": "point", "shape": "M-1,0L-0.87,-0.29L1,-0.29L1,0.29L-0.87,0.29Z", "size": 6400, "filled": true, "opacity": 1, "color": "#7cc70e", "strokeWidth": 0, "xOffset": 65, "yOffset": 4},
 "encoding": {"x": {"field": "date", "type": "temporal", "axis": null}, "y": {"field": "value", "type": "quantitative", "axis": null}}},
{"transform": [{"filter": "datum.series == 'MA 100' && utcyear(datum.date) == 2025 && utcmonth(datum.date) == 0 && utcdate(datum.date) == 21"}],
 "mark": {"type": "text", "font": "Liberation Sans", "fontSize": 22.5, "color": "#000000", "align": "center", "baseline": "middle", "dx": 67, "dy": 5},
 "encoding": {"x": {"field": "date", "type": "temporal", "axis": null}, "y": {"field": "value", "type": "quantitative", "axis": null}, "text": {"field": "value", "type": "quantitative", "format": ".2f"}}},
{"transform": [{"filter": "datum.series == 'MA 200' && utcyear(datum.date) == 2025 && utcmonth(datum.date) == 0 && utcdate(datum.date) == 21"}],
 "mark": {"type": "point", "shape": "M-1,0L-0.87,-0.29L1,-0.29L1,0.29L-0.87,0.29Z", "size": 6400, "filled": true, "opacity": 1, "color": "#000000", "strokeWidth": 0, "xOffset": 65, "yOffset": 2.5},
 "encoding": {"x": {"field": "date", "type": "temporal", "axis": null}, "y": {"field": "value", "type": "quantitative", "axis": null}}},
{"transform": [{"filter": "datum.series == 'MA 200' && utcyear(datum.date) == 2025 && utcmonth(datum.date) == 0 && utcdate(datum.date) == 21"}],
 "mark": {"type": "text", "font": "Liberation Sans", "fontSize": 22.5, "color": "#ffffff", "align": "center", "baseline": "middle", "dx": 67, "dy": 3.5},
 "encoding": {"x": {"field": "date", "type": "temporal", "axis": null}, "y": {"field": "value", "type": "quantitative", "axis": null}, "text": {"field": "value", "type": "quantitative", "format": ".2f"}}},
{"transform": [{"filter": "datum.series == 'Last Price' && utcyear(datum.date) == 2025 && utcmonth(datum.date) == 0 && utcdate(datum.date) == 21"}],
 "mark": {"type": "point", "shape": "M-1,0L-0.87,-0.29L1,-0.29L1,0.29L-0.87,0.29Z", "size": 6400, "filled": true, "opacity": 1, "color": "#2b6ba8", "strokeWidth": 0, "xOffset": 65, "yOffset": -2},
 "encoding": {"x": {"field": "date", "type": "temporal", "axis": null}, "y": {"field": "value", "type": "quantitative", "axis": null}}},
{"transform": [{"filter": "datum.series == 'Last Price' && utcyear(datum.date) == 2025 && utcmonth(datum.date) == 0 && utcdate(datum.date) == 21"}],
 "mark": {"type": "text", "font": "Liberation Sans", "fontSize": 22.5, "color": "#ffffff", "align": "center", "baseline": "middle", "dx": 67, "dy": -1},
 "encoding": {"x": {"field": "date", "type": "temporal", "axis": null}, "y": {"field": "value", "type": "quantitative", "axis": null}, "text": {"field": "value", "type": "quantitative", "format": ".2f"}}}
],
"config": {"view": {"stroke": null}, "font": "Liberation Sans"}
}
